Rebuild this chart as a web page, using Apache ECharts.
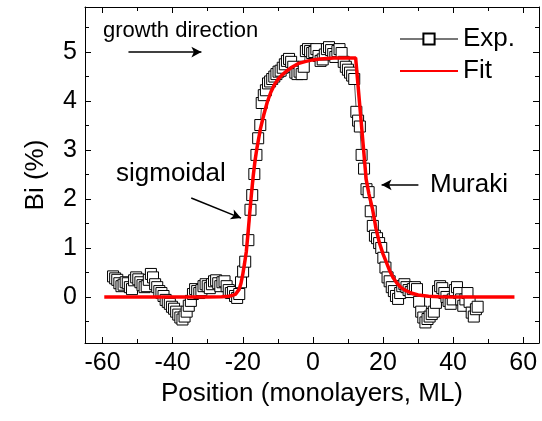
<!DOCTYPE html>
<html>
<head>
<meta charset="utf-8">
<script src="https://cdn.jsdelivr.net/npm/echarts@6/dist/echarts.min.js"></script>
<style>
  html, body { margin: 0; padding: 0; background: #fff; }
  #chart { width: 542px; height: 421px; }
</style>
</head>
<body>
<div id="chart"></div>
<script>
// Exp. profile (position in ML, Bi in %)
var expPos = [
  -57.0, -56.4, -55.8, -55.2, -54.6, -54.0, -53.4, -52.8, -52.2, -51.6,
  -51.0, -50.4, -49.8, -49.2, -48.6, -48.0, -47.4, -46.8, -46.2, -45.6,
  -45.0, -44.4, -43.8, -43.2, -42.6, -42.0, -41.4, -40.8, -40.2, -39.6,
  -39.0, -38.4, -37.8, -37.2, -36.6, -36.0, -35.4, -34.8, -34.2, -33.6,
  -33.0, -32.4, -31.8, -31.2, -30.6, -30.0, -29.4, -28.8, -28.2, -27.6,
  -27.0, -26.4, -25.8, -25.2, -24.6, -24.0, -23.4, -22.8, -22.2, -21.6,
  -21.0, -20.5, -19.9, -19.3, -18.4, -17.8, -17.3, -16.7, -16.1, -15.6,
  -15.0, -14.6, -14.0, -13.4, -12.8, -12.2, -11.6, -11.0, -10.4, -9.8,
  -9.2, -8.6, -8.0, -7.4, -6.8, -6.2, -5.6, -5.0, -4.4, -3.8,
  -3.2, -2.6, -2.0, -1.4, -0.8, -0.2, 0.4, 1.0, 1.6, 2.2,
  2.8, 3.4, 4.0, 4.6, 5.2, 5.8, 6.4, 7.0, 7.6, 8.2,
  8.8, 9.4, 10.0, 10.6, 11.2, 11.8, 12.4, 12.9, 13.4, 13.9,
  14.6, 15.3, 15.9, 16.5, 17.1, 17.7, 18.3, 18.9, 19.5, 20.1,
  20.7, 21.3, 21.9, 22.5, 23.1, 23.7, 24.3, 24.9, 25.5, 26.1,
  26.7, 27.3, 27.9, 28.5, 29.1, 29.7, 30.3, 30.9, 31.5, 32.1,
  32.7, 33.3, 33.9, 34.5, 35.1, 35.7, 36.3, 36.9, 37.5, 38.1,
  38.7, 39.3, 39.9, 40.5, 41.1, 41.7, 42.3, 42.9, 43.5, 44.1,
  44.7, 45.3, 45.9, 46.5, 47.0
];
var expBi = [
  0.42, 0.38, 0.35, 0.28, 0.22, 0.25, 0.30, 0.28, 0.20, 0.16,
  0.34, 0.40, 0.36, 0.30, 0.24, 0.20, 0.22, 0.35, 0.47, 0.40,
  0.26, 0.20, 0.12, 0.08, 0.02, -0.06, -0.10, -0.14, -0.20, -0.24,
  -0.30, -0.36, -0.42, -0.46, -0.40, -0.30, -0.18, -0.08, 0.06, 0.16,
  0.12, 0.08, 0.14, 0.22, 0.26, 0.22, 0.18, 0.26, 0.32, 0.34,
  0.28, 0.22, 0.30, 0.32, 0.22, 0.14, 0.08, 0.10, 0.02, -0.02,
  0.06, 0.30, 0.52, 0.72, 1.16, 1.78, 2.08, 2.51, 2.90, 3.24,
  3.51, 3.96, 4.12, 4.22, 4.36, 4.40, 4.45, 4.50, 4.55, 4.60,
  4.62, 4.68, 4.75, 4.82, 4.86, 4.80, 4.70, 4.58, 4.55, 4.60,
  4.55, 4.70, 5.02, 5.06, 5.02, 4.98, 5.00, 5.06, 4.92, 4.82,
  4.85, 4.95, 5.06, 5.10, 5.04, 4.96, 4.90, 5.02, 5.06, 4.98,
  4.80, 4.70, 4.64, 4.58, 4.52, 4.45, 3.78, 3.60, 3.48, 2.90,
  2.62, 2.20, 2.14, 1.75, 1.45, 1.25, 1.20, 1.10, 1.00, 0.80,
  0.60, 0.40, 0.32, 0.20, 0.12, 0.02, -0.04, 0.08, 0.22, 0.26,
  0.20, 0.14, 0.10, 0.16, 0.20, 0.16, -0.10, -0.30, -0.42, -0.52,
  -0.45, -0.40, -0.35, -0.30, -0.12, 0.12, 0.22, 0.18, 0.08, 0.00,
  -0.08, -0.14, -0.05, 0.14, 0.20, 0.08, -0.05, -0.18, -0.05, 0.08,
  -0.10, -0.32, -0.40, -0.25, -0.20
];

// fitted curve (sigmoidal rise + Muraki decay)
var fitPos = [
  -59.5, -40, -30, -26, -24, -23, -22, -21.5, -21, -20.5,
  -20, -19.5, -19, -18.5, -18, -17.5, -17, -16.5, -16, -15,
  -14, -13, -12, -11, -10, -9, -8, -7, -6, -5,
  -4, -2, 0, 2, 4, 6, 8, 10, 12.2, 15.2,
  16, 17, 18, 19, 20, 21, 22, 23, 24, 25,
  26, 28, 30, 33, 36, 40, 57.5
];
var fitBi = [
  0, 0, 0, 0.005, 0.015, 0.03, 0.06, 0.1, 0.16, 0.28,
  0.46, 0.68, 0.92, 1.3, 1.72, 2.12, 2.48, 2.78, 3.02, 3.42,
  3.72, 3.98, 4.18, 4.33, 4.44, 4.52, 4.58, 4.64, 4.69, 4.73,
  4.77, 4.81, 4.84, 4.86, 4.87, 4.88, 4.88, 4.88, 4.88, 2.4,
  2.1, 1.8, 1.4, 1.1, 0.88, 0.7, 0.52, 0.38, 0.28, 0.2,
  0.15, 0.08, 0.04, 0.015, 0.005, 0, 0
];

var FONT = '"Liberation Sans", Arial, sans-serif';

function pairs(xs, ys) {
  var out = [];
  for (var i = 0; i < xs.length; i++) out.push([xs[i], ys[i]]);
  return out;
}

function frameAxis(pos, min, max, showLabel, fmt, split) {
  return {
    type: 'value',
    position: pos,
    min: min,
    max: max,
    splitNumber: split,
    axisLine: { show: true, onZero: false, lineStyle: { color: '#000', width: 1 } },
    axisTick: { show: true, inside: true, length: 6, lineStyle: { color: '#000' } },
    minorTick: { show: true, splitNumber: 2, length: 4, lineStyle: { color: '#000' } },
    splitLine: { show: false },
    axisLabel: {
      show: showLabel,
      color: '#000',
      fontSize: 25,
      fontFamily: FONT,
      margin: 8,
      formatter: fmt
    }
  };
}

var chart = echarts.init(document.getElementById('chart'));

var xBottom = frameAxis('bottom', -65, 64.5, true, function (v) {
  return Math.abs(v % 20) < 1e-6 ? String(v) : '';
}, 6);
xBottom.name = 'Position (monolayers, ML)';
xBottom.nameLocation = 'middle';
xBottom.nameGap = 37;
xBottom.nameTextStyle = { color: '#000', fontSize: 26, fontFamily: FONT };

var yLeft = frameAxis('left', -0.94, 5.92, true, function (v) {
  return Math.abs(v % 1) < 1e-6 ? String(v) : '';
}, 6);
yLeft.name = 'Bi (%)';
yLeft.nameLocation = 'middle';
yLeft.nameGap = 36;
yLeft.nameTextStyle = { color: '#000', fontSize: 26, fontFamily: FONT };

chart.setOption({
  animation: false,
  backgroundColor: '#fff',
  grid: { left: 85, right: 1, top: 7, bottom: 78 },
  xAxis: [xBottom, frameAxis('top', -65, 64.5, false, null, 6)],
  yAxis: [yLeft, frameAxis('right', -0.94, 5.92, false, null, 6)],
  legend: {
    orient: 'vertical',
    left: 394,
    top: 21,
    itemWidth: 58,
    itemHeight: 14,
    itemGap: 6,
    textStyle: { color: '#000', fontSize: 26, fontFamily: FONT },
    data: [
      { name: 'Exp.', lineStyle: { color: '#777' } },
      { name: 'Fit', itemStyle: { opacity: 0 } }
    ]
  },
  graphic: [
    { type: 'text', left: 103, top: 20, style: { text: 'growth direction', fill: '#000', font: '22px ' + FONT } },
    { type: 'text', left: 116, top: 161, style: { text: 'sigmoidal', fill: '#000', font: '26px ' + FONT } },
    { type: 'text', left: 430, top: 172, style: { text: 'Muraki', fill: '#000', font: '26px ' + FONT } }
  ],
  series: [
    {
      name: 'Exp.',
      type: 'line',
      data: pairs(expPos, expBi),
      symbol: 'rect',
      symbolSize: 11,
      showAllSymbol: true,
      itemStyle: { color: '#fff', borderColor: '#000', borderWidth: 1 },
      lineStyle: { color: '#555', width: 1 },
      z: 2
    },
    {
      name: 'Fit',
      type: 'line',
      data: pairs(fitPos, fitBi),
      showSymbol: false,
      symbol: 'none',
      itemStyle: { color: '#ff0000' },
      lineStyle: { color: '#ff0000', width: 3.5 },
      z: 3,
      markLine: {
        silent: true,
        symbol: ['none', 'arrow'],
        symbolSize: [8, 10],
        label: { show: false },
        lineStyle: { color: '#000', width: 1.5, type: 'solid' },
        data: [
          [{ coord: [-52.6, 5.0] }, { coord: [-31.8, 5.0] }],
          [{ coord: [-34.7, 2.02] }, { coord: [-20.5, 1.61] }],
          [{ coord: [30.1, 2.29] }, { coord: [19.6, 2.29] }]
        ]
      }
    }
  ]
});
</script>
</body>
</html>
